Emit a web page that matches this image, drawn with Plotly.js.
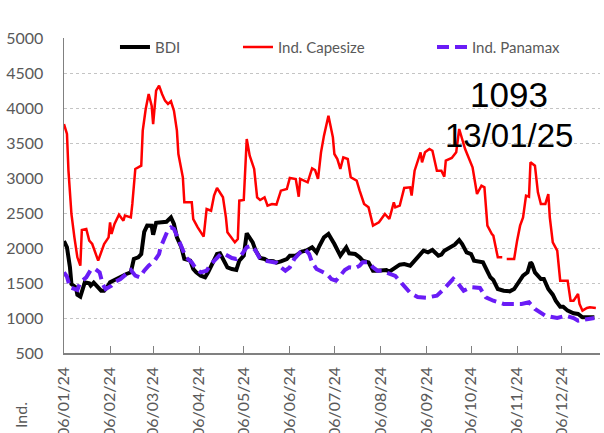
<!DOCTYPE html>
<html>
<head>
<meta charset="utf-8">
<script src="https://cdn.plot.ly/plotly-3.0.1.min.js"></script>
<style>html,body{margin:0;padding:0;background:#fff;}#chart{width:604px;height:433px;}</style>
</head>
<body>
<div id="chart"></div>
<script>
// ---- Data ----
const bdiDates = ["2024-01-06","2024-01-08","2024-01-10","2024-01-11","2024-01-14","2024-01-15","2024-01-17","2024-01-19","2024-01-20","2024-01-23","2024-01-24","2024-01-26","2024-01-29","2024-01-31","2024-02-02","2024-02-04","2024-02-06","2024-02-10","2024-02-13","2024-02-17","2024-02-20","2024-02-22","2024-02-25","2024-02-27","2024-02-29","2024-03-02","2024-03-05","2024-03-06","2024-03-08","2024-03-11","2024-03-15","2024-03-18","2024-03-20","2024-03-22","2024-03-25","2024-03-27","2024-03-31","2024-04-02","2024-04-04","2024-04-07","2024-04-10","2024-04-12","2024-04-15","2024-04-18","2024-04-20","2024-04-23","2024-04-25","2024-04-28","2024-05-01","2024-05-03","2024-05-05","2024-05-06","2024-05-08","2024-05-10","2024-05-12","2024-05-14","2024-05-17","2024-05-20","2024-05-22","2024-05-26","2024-05-28","2024-05-31","2024-06-04","2024-06-06","2024-06-10","2024-06-14","2024-06-17","2024-06-21","2024-06-24","2024-06-26","2024-06-29","2024-07-02","2024-07-04","2024-07-06","2024-07-10","2024-07-12","2024-07-14","2024-07-16","2024-07-20","2024-07-23","2024-07-25","2024-07-29","2024-08-01","2024-08-04","2024-08-06","2024-08-10","2024-08-12","2024-08-16","2024-08-19","2024-08-22","2024-08-26","2024-08-28","2024-08-30","2024-09-02","2024-09-04","2024-09-07","2024-09-10","2024-09-14","2024-09-16","2024-09-18","2024-09-22","2024-09-25","2024-09-28","2024-09-30","2024-10-03","2024-10-06","2024-10-08","2024-10-12","2024-10-14","2024-10-17","2024-10-19","2024-10-21","2024-10-24","2024-10-28","2024-11-01","2024-11-04","2024-11-07","2024-11-10","2024-11-13","2024-11-15","2024-11-16","2024-11-18","2024-11-22","2024-11-24","2024-11-27","2024-11-30","2024-12-02","2024-12-05","2024-12-07","2024-12-10","2024-12-14","2024-12-17","2024-12-20","2024-12-24","2024-12-28"];
const bdiValues = [2100,2010,1724,1486,1438,1333,1305,1438,1510,1495,1462,1505,1429,1390,1390,1438,1510,1557,1590,1629,1652,1843,1867,1914,2230,2320,2319,2190,2360,2367,2375,2438,2343,2152,2010,1843,1819,1700,1652,1605,1581,1652,1771,1914,1924,1795,1724,1700,1686,1819,1876,1890,2209,2152,2081,1962,1857,1843,1819,1810,1790,1810,1843,1890,1890,1948,1962,2010,1938,2033,2152,2200,2130,2057,1890,1962,2010,1924,1914,1867,1819,1795,1676,1676,1676,1686,1662,1724,1762,1771,1748,1795,1843,1905,1962,1938,1971,1890,1905,1962,2019,2048,2114,2057,1938,1914,1819,1810,1795,1665,1581,1543,1414,1390,1381,1414,1510,1605,1652,1795,1771,1652,1557,1557,1414,1333,1248,1162,1162,1105,1067,1057,1010,1010,1010];

const capeDates = ["2024-01-06","2024-01-08","2024-01-09","2024-01-11","2024-01-13","2024-01-15","2024-01-17","2024-01-18","2024-01-21","2024-01-23","2024-01-25","2024-01-27","2024-01-29","2024-01-31","2024-02-02","2024-02-05","2024-02-06","2024-02-07","2024-02-09","2024-02-12","2024-02-15","2024-02-16","2024-02-20","2024-02-21","2024-02-23","2024-02-27","2024-02-28","2024-03-01","2024-03-03","2024-03-05","2024-03-06","2024-03-08","2024-03-10","2024-03-12","2024-03-14","2024-03-16","2024-03-18","2024-03-20","2024-03-22","2024-03-23","2024-03-26","2024-03-27","2024-04-01","2024-04-02","2024-04-05","2024-04-09","2024-04-11","2024-04-14","2024-04-16","2024-04-18","2024-04-22","2024-04-24","2024-04-25","2024-04-30","2024-05-02","2024-05-03","2024-05-06","2024-05-08","2024-05-10","2024-05-13","2024-05-15","2024-05-17","2024-05-20","2024-05-22","2024-05-25","2024-05-28","2024-05-31","2024-06-04","2024-06-06","2024-06-10","2024-06-12","2024-06-13","2024-06-18","2024-06-21","2024-06-23","2024-06-25","2024-06-27","2024-06-29","2024-07-02","2024-07-05","2024-07-06","2024-07-08","2024-07-10","2024-07-12","2024-07-15","2024-07-17","2024-07-21","2024-07-23","2024-07-26","2024-07-29","2024-08-01","2024-08-05","2024-08-09","2024-08-12","2024-08-15","2024-08-16","2024-08-19","2024-08-22","2024-08-26","2024-08-27","2024-08-29","2024-09-02","2024-09-03","2024-09-05","2024-09-08","2024-09-10","2024-09-13","2024-09-16","2024-09-18","2024-09-19","2024-09-23","2024-09-26","2024-09-28","2024-10-02","2024-10-05","2024-10-07","2024-10-10","2024-10-13","2024-10-15","2024-10-17","2024-10-20","2024-10-21","2024-10-24","2024-10-27","2024-10-28","2024-10-30","2024-11-04","2024-11-06","2024-11-08","2024-11-10","2024-11-12","2024-11-14","2024-11-15","2024-11-18","2024-11-20","2024-11-22","2024-11-25","2024-11-27","2024-11-28","2024-11-30","2024-12-03","2024-12-05","2024-12-10","2024-12-12","2024-12-14","2024-12-17","2024-12-18","2024-12-20","2024-12-23","2024-12-25","2024-12-29"];
const capeValues = [3771,3629,3105,2486,2152,1867,1748,2257,2271,2105,2057,1938,1819,1938,2057,2152,2367,2200,2343,2476,2390,2462,2438,2629,3129,3176,3676,3986,4200,4033,3771,4248,4319,4200,4105,4058,4096,3962,3677,3343,3010,2652,2652,2414,2295,2162,2557,2533,2748,2857,2724,2438,2224,2081,2128,2676,2686,3557,3319,3129,2724,2686,2724,2605,2629,2620,2819,2843,3000,2986,2733,2986,2938,3138,3114,2986,3367,3605,3890,3581,3343,3271,3129,3295,3271,3010,2962,2819,2629,2581,2319,2367,2486,2414,2652,2581,2605,2857,2867,2748,3105,3367,3224,3367,3414,3390,3105,3105,3019,3248,3286,3367,3700,3414,3248,3152,2771,2890,2867,2319,2200,2176,1867,1867,null,1843,1843,2105,2319,2438,2748,2733,3224,3176,2795,2629,2629,2771,2438,2081,1962,1533,1533,1248,1248,1343,1200,1105,1143,1152,1143];

const panaDates = ["2024-01-06","2024-01-08","2024-01-10","2024-01-13","2024-01-15","2024-01-17","2024-01-21","2024-01-24","2024-01-27","2024-01-30","2024-02-01","2024-02-03","2024-02-07","2024-02-10","2024-02-13","2024-02-17","2024-02-20","2024-02-23","2024-02-26","2024-02-29","2024-03-03","2024-03-07","2024-03-10","2024-03-11","2024-03-14","2024-03-16","2024-03-18","2024-03-20","2024-03-22","2024-03-25","2024-03-28","2024-04-01","2024-04-04","2024-04-07","2024-04-11","2024-04-14","2024-04-18","2024-04-21","2024-04-24","2024-04-28","2024-05-01","2024-05-04","2024-05-08","2024-05-11","2024-05-14","2024-05-17","2024-05-20","2024-05-23","2024-05-28","2024-05-31","2024-06-03","2024-06-06","2024-06-09","2024-06-13","2024-06-16","2024-06-19","2024-06-21","2024-06-24","2024-06-27","2024-07-01","2024-07-04","2024-07-07","2024-07-10","2024-07-13","2024-07-16","2024-07-20","2024-07-23","2024-07-25","2024-07-29","2024-08-01","2024-08-04","2024-08-07","2024-08-10","2024-08-16","2024-08-21","2024-08-26","2024-08-31","2024-09-06","2024-09-13","2024-09-18","2024-09-24","2024-09-27","2024-10-01","2024-10-06","2024-10-12","2024-10-16","2024-10-21","2024-10-28","2024-11-09","2024-11-14","2024-11-18","2024-11-25","2024-12-03","2024-12-09","2024-12-14","2024-12-17","2024-12-24","2024-12-28"];
const panaValues = [1652,1590,1438,1414,1400,1510,1581,1686,1700,1652,1486,1414,1462,1524,1557,1629,1686,1605,1581,1676,1748,1819,1914,2010,2152,2257,2295,2271,2176,2010,1867,1795,1700,1652,1676,1771,1867,1924,1905,1857,1843,1890,2010,2033,1962,1843,1819,1810,1790,1724,1676,1724,1843,1938,1986,1914,1795,1700,1676,1629,1557,1533,1605,1686,1724,1714,1748,1795,1795,1724,1676,1676,1650,1600,1480,1360,1300,1290,1320,1420,1560,1500,1390,1440,1430,1294,1247,1200,1200,1224,1129,1033,1000,1033,1000,962,985,1000];

const seriesNames = ["BDI", "Ind. Capesize", "Ind. Panamax"];
const yTickValues = [500,1000,1500,2000,2500,3000,3500,4000,4500,5000];
const lastValueLabel = "1093";
const lastDateLabel = "13/01/25";
const axisNote = "Ind.";

const axisFont = {family: "Lato, 'Open Sans', sans-serif", size: 16, color: "#595959"};
const legendFont = {family: "Lato, 'Open Sans', sans-serif", size: 15, color: "#595959"};

const traces = [
  {x: bdiDates, y: bdiValues, name: seriesNames[0], type: "scatter", mode: "lines",
   line: {color: "#000000", width: 4}, legend: "legend", connectgaps: false},
  {x: capeDates, y: capeValues, name: seriesNames[1], type: "scatter", mode: "lines",
   line: {color: "#ff0000", width: 2.5}, legend: "legend2", connectgaps: false},
  {x: panaDates, y: panaValues, name: seriesNames[2], type: "scatter", mode: "lines",
   line: {color: "#6a1cf6", width: 4, dash: "12px,6px"}, legend: "legend3", connectgaps: false}
];

const legendBase = {orientation: "h", y: 0.971, yanchor: "middle", xanchor: "left",
  bgcolor: "rgba(0,0,0,0)", borderwidth: 0, font: legendFont};

const layout = {
  width: 604, height: 433,
  margin: {l: 64, r: 4, t: 38, b: 80, pad: 0},
  paper_bgcolor: "#ffffff", plot_bgcolor: "#ffffff",
  showlegend: true,
  legend: Object.assign({}, legendBase, {x: 0.0951}),
  legend2: Object.assign({}, legendBase, {x: 0.3246}),
  legend3: Object.assign({}, legendBase, {x: 0.6866}),
  xaxis: {
    type: "date",
    range: ["2024-01-06", "2024-12-31 19:00"],
    tickmode: "linear", tick0: "2024-01-06", dtick: "M1",
    tickformat: "%d/%m/%y", tickangle: -90,
    ticks: "inside", ticklen: 7, tickcolor: "#808080", tickwidth: 1,
    showline: true, linecolor: "#808080", linewidth: 1.5,
    showgrid: false, zeroline: false,
    tickfont: axisFont, ticklabelstandoff: 6
  },
  yaxis: {
    range: [500, 5000],
    tickmode: "array", tickvals: yTickValues,
    ticks: "", showline: true, linecolor: "#808080", linewidth: 1.5,
    showgrid: true, gridcolor: "#c4c4c4", gridwidth: 1, griddash: "3px,3px",
    zeroline: false, tickfont: axisFont, ticklabelstandoff: 16
  },
  annotations: [
    {text: lastValueLabel, xref: "paper", yref: "paper", x: 0.830, y: 0.822,
     xanchor: "center", yanchor: "middle", showarrow: false,
     font: {family: "'Liberation Sans', Arial, sans-serif", size: 35, color: "#000000"}},
    {text: lastDateLabel, xref: "paper", yref: "paper", x: 0.830, y: 0.692,
     xanchor: "center", yanchor: "middle", showarrow: false,
     font: {family: "'Liberation Sans', Arial, sans-serif", size: 33, color: "#000000"}},
    {text: axisNote, xref: "paper", yref: "paper", x: -0.082, y: -0.197,
     xanchor: "center", yanchor: "middle", textangle: -90, showarrow: false,
     font: axisFont}
  ]
};

Plotly.newPlot("chart", traces, layout, {displayModeBar: false, staticPlot: true});
</script>
</body>
</html>
